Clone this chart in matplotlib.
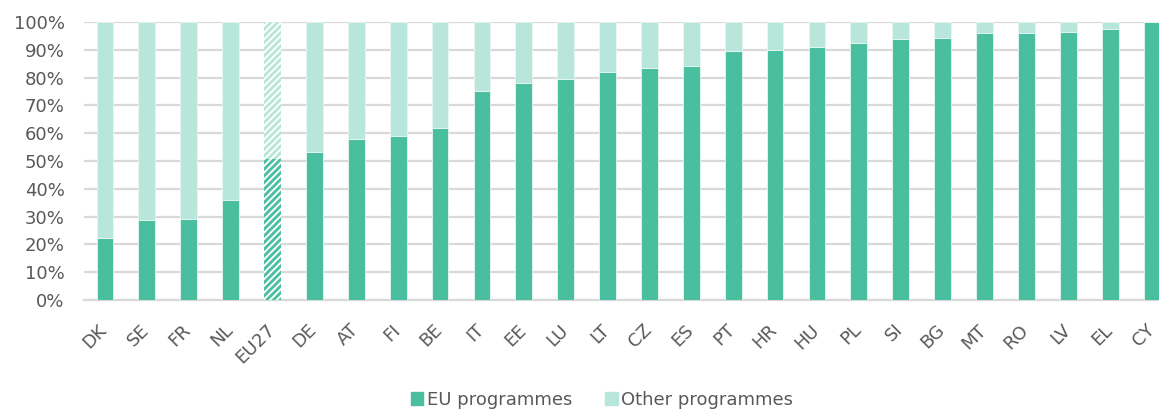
import numpy as np
import matplotlib.pyplot as plt
import matplotlib.transforms as mtransforms
from matplotlib.patches import Patch

# share of EU programmes by country (%), remainder is other programmes
countries = ["DK", "SE", "FR", "NL", "EU27", "DE", "AT", "FI", "BE", "IT", "EE", "LU", "LT",
             "CZ", "ES", "PT", "HR", "HU", "PL", "SI", "BG", "MT", "RO", "LV", "EL", "CY"]
eu_share = [22.4, 28.8, 29.1, 36.0, 50.8, 53.2, 57.9, 59.0, 62.0, 75.2, 78.1, 79.6, 82.0,
            83.5, 84.1, 89.6, 89.9, 91.0, 92.4, 93.9, 94.4, 96.0, 96.2, 96.4, 97.5, 100.0]
other_share = [100 - v for v in eu_share]

dark = "#49BFA0"
light = "#B8E6DA"
txt = "#595959"

plt.rcParams['font.family'] = ['DejaVu Sans']
plt.rcParams['hatch.linewidth'] = 2.0

fig = plt.figure(figsize=(11.59, 4.09), dpi=100)
ax = fig.add_axes([84/1159, 1 - 300/409, 1089/1159, 278/409])

x = np.arange(len(countries))
w = 0.4
for i, c in enumerate(countries):
    if c == "EU27":
        ax.bar(x[i], eu_share[i], w, color="white", edgecolor=dark, hatch="/////", linewidth=0, zorder=3)
        ax.bar(x[i], other_share[i], w, bottom=eu_share[i], color="white", edgecolor=light,
               hatch="/////", linewidth=0, zorder=3)
    else:
        ax.bar(x[i], eu_share[i], w, color=dark, edgecolor="#E8F6F1", linewidth=0.6, zorder=3)
        ax.bar(x[i], other_share[i], w, bottom=eu_share[i], color=light, edgecolor="#E8F6F1",
               linewidth=0.6, zorder=3)

ax.set_xlim(-0.5, len(countries) - 0.5)
ax.set_ylim(0, 100)
ax.set_yticks(range(0, 101, 10))
ax.set_yticklabels([f"{v}%" for v in range(0, 101, 10)])
ax.yaxis.grid(True, color="#D9D9D9", linewidth=1.6, zorder=0)
ax.set_axisbelow(True)
for s in ["top", "right", "left"]:
    ax.spines[s].set_visible(False)
ax.spines["bottom"].set_color("#D9D9D9")
ax.spines["bottom"].set_linewidth(1.6)
ax.tick_params(axis="both", length=0, labelsize=13, labelcolor=txt)
ax.tick_params(axis="y", pad=14)
ax.set_xticks(x)
ax.set_xticklabels(countries, rotation=45, ha="right", va="top", rotation_mode="anchor")
ax.tick_params(axis="x", pad=15)

# nudge the rotated country labels a bit to the left
shift = mtransforms.ScaledTranslation(-7/100, 0, fig.dpi_scale_trans)
for lbl in ax.get_xticklabels():
    lbl.set_transform(lbl.get_transform() + shift)

handles = [Patch(color=dark, label="EU programmes"), Patch(color=light, label="Other programmes")]
fig.legend(handles=handles, loc="center", bbox_to_anchor=(602/1159, 1 - 400/409), ncol=2,
           frameon=False, fontsize=13, labelcolor=txt, handlelength=0.7, handleheight=0.7,
           handletextpad=0.2, columnspacing=1.8)

fig.savefig("out.png", dpi=100)
